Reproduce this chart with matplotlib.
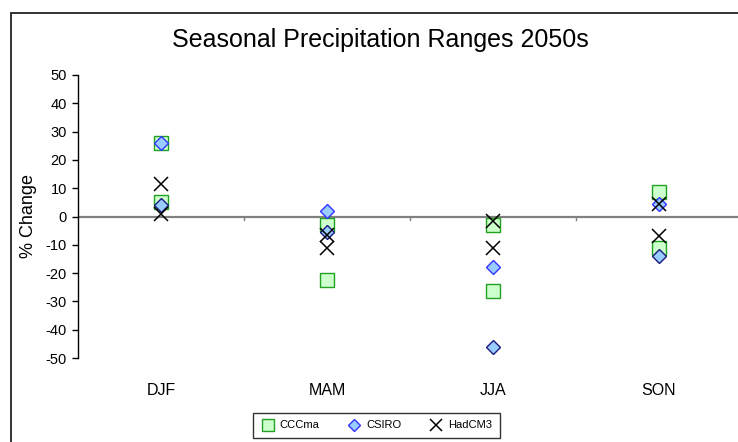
import matplotlib
matplotlib.use("Agg")
import matplotlib.pyplot as plt
from matplotlib.patches import Rectangle
from matplotlib.lines import Line2D

plt.rcParams['font.family'] = ['Liberation Sans', 'DejaVu Sans']

seasons = ["DJF", "MAM", "JJA", "SON"]
ccc_high = [26, -3, -3, 8.5]
ccc_low = [5, -22.5, -26.5, -11]
csiro_high = [26, 2, -18, 4.5]
csiro_low = [4, -5.5, -46, -14]
had_high = [11.5, -6.5, -1.5, 4.5]
had_low = [1, -11, -11, -7]
yticks = list(range(-50, 51, 10))

W, H = 738, 442
fig = plt.figure(figsize=(W / 100, H / 100), dpi=100)

# outer chart border
fig.patches.append(Rectangle((11 / W, -0.1), 1.2, 1 - 13 / H + 0.1, transform=fig.transFigure,
                             fill=False, edgecolor='#222222', linewidth=1.3))

ax = fig.add_axes([78 / W, 1 - 358 / H, 664 / W, (358 - 75) / H])
x = list(range(len(seasons)))

sq = dict(marker='s', markersize=9.5, markerfacecolor='#CCFFCC', markeredgecolor='#22A022',
          markeredgewidth=1.0, linestyle='none')
dm_hi = dict(marker='D', markersize=6.8, markerfacecolor='#99CCFF', markeredgecolor='#3333FF',
             markeredgewidth=1.0, linestyle='none')
dm_lo = dict(marker='D', markersize=6.8, markerfacecolor='#99CCFF', markeredgecolor='#1A1A80',
             markeredgewidth=1.0, linestyle='none')
xx = dict(marker='x', markersize=10, color='black', markeredgewidth=1.1, linestyle='none')

ax.plot(x, ccc_high, **sq)
ax.plot(x, ccc_low, **sq)
ax.plot(x, csiro_high, **dm_hi)
ax.plot(x, csiro_low, **dm_lo)
ax.plot(x, had_high, **xx)
ax.plot(x, had_low, **xx)

ax.set_xlim(-0.5, len(seasons) - 0.5)
ax.set_ylim(-50, 50)
ax.axhline(0, color='#808080', linewidth=1.6, zorder=0)
# small category-boundary ticks on the zero line
for b in [0.5, 1.5, 2.5]:
    ax.plot([b, b], [0, -1.4], color='#808080', linewidth=1.0, zorder=0)

for s in ['top', 'right', 'bottom']:
    ax.spines[s].set_visible(False)
ax.spines['left'].set_color('black')
ax.spines['left'].set_linewidth(1.0)

ax.set_yticks(yticks)
ax.set_yticklabels([str(v) for v in yticks], fontsize=10.5)
ax.tick_params(axis='y', direction='out', length=4, width=1, pad=4)
ax.set_xticks(x)
ax.set_xticklabels(seasons, fontsize=11.5)
ax.tick_params(axis='x', length=0, pad=18)

ax.set_ylabel('% Change', fontsize=13, labelpad=6)

fig.text(380 / W, 1 - 40 / H, 'Seasonal Precipitation Ranges 2050s', fontsize=18,
         ha='center', va='center')

handles = [
    Line2D([], [], **sq),
    Line2D([], [], **dm_hi),
    Line2D([], [], **xx),
]
leg = fig.legend(handles, ['CCCma', 'CSIRO', 'HadCM3'], loc='center',
                 bbox_to_anchor=(376.5 / W, 1 - 425.5 / H), ncol=3, fontsize=8,
                 frameon=True, fancybox=False, edgecolor='black', handlelength=1.2,
                 handletextpad=0.5, columnspacing=2.5, borderpad=0.7, markerscale=0.85)
leg.get_frame().set_linewidth(1.0)

fig.savefig('out.png', dpi=100)
